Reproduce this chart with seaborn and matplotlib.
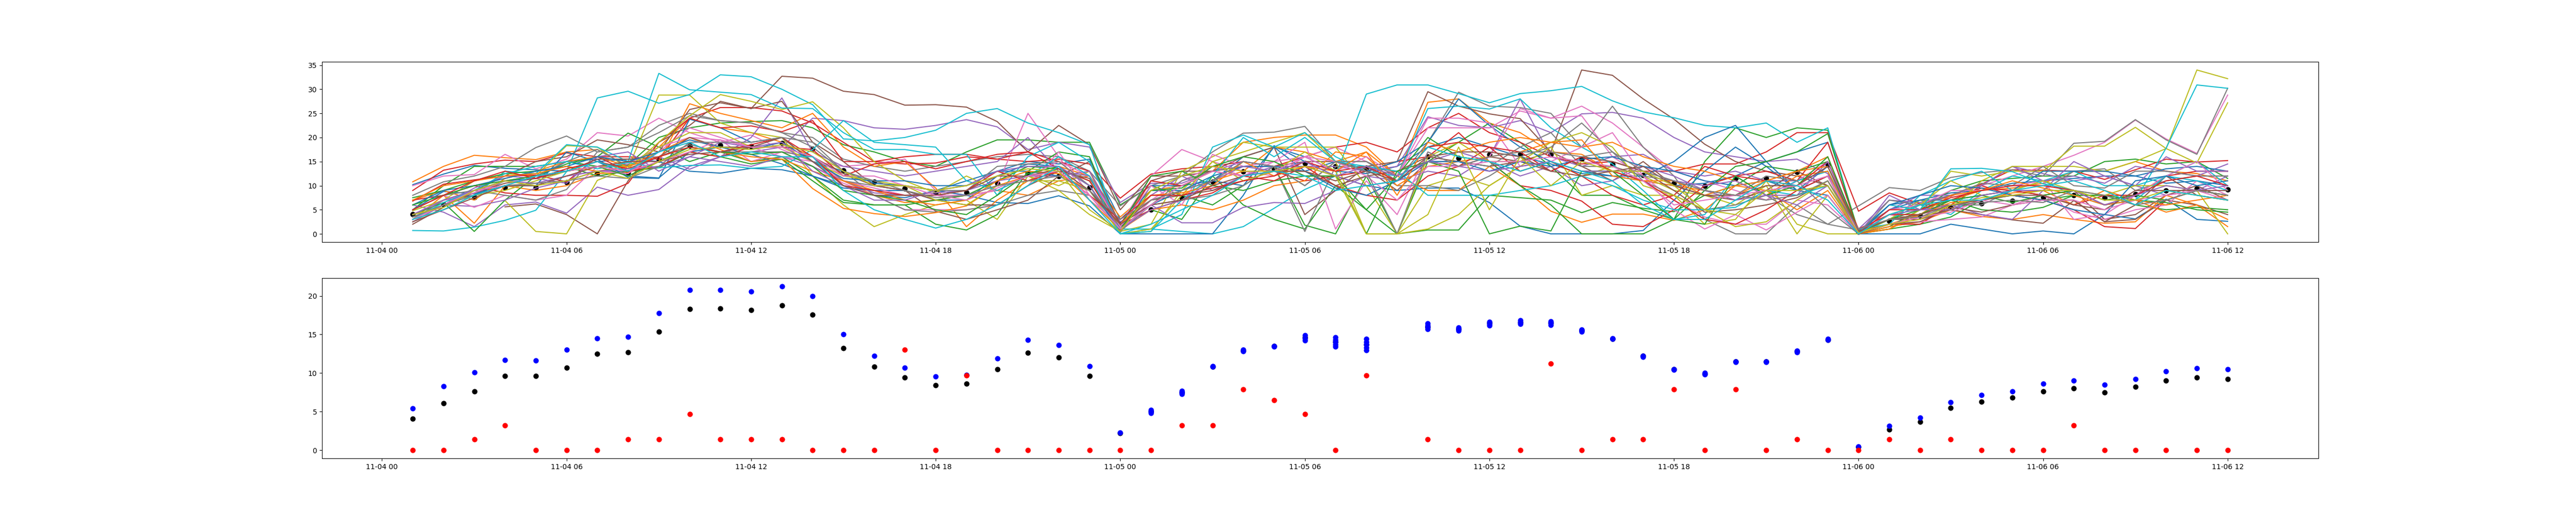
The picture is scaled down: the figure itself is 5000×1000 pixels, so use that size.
# Hourly temperature-like traces and their summary points over two and a half days
import numpy as np
import pandas as pd
import matplotlib.pyplot as plt
import seaborn as sns

nan = np.nan

hours = pd.date_range('2019-11-04 01:00', periods=60, freq='h')

# Each trace reads 12 values per row: 11-04 01h, 11-04 13h, 11-05 01h, 11-05 13h, 11-06 01h
s00 = [10.2,12.4,14.2,13.6,13.3,13,15,15.5,15,13,12.6,13.6, 13.3,12,10,8,7.5,9,11,13,15,14.5,15.5,3, 9,9,11,16,18,16,13,12.5,14,18,20,18, 16,14.5,12.5,12,11,10,10.5,12,15,17,19,0.5, 6,7,8.5,9,10.5,11,11.5,12,12,10.5,11,10]
s01 = [10.8,14,16.3,15.8,15.4,17,17.5,14,18,24,22,21, 19,16,11,8,6.5,7,8,9,8,11,12,3.5, 9,10,13,19,20,20.5,20.5,18,12,27.3,28,23, 21,17,16.5,13,11,10,9,8,11,13,16,0, 2,4,7,9,9.5,10.5,13,13,15,13,12.5,11]
s02 = [5,10,14,14,14,15,14,14.3,20,22,23,23.3, 23.5,22,18.5,17,15,14,17,19.5,19.5,19,19,6, 10,8,6,10,14,1.8,0,12,0,15,19,23, 19,14,8,8,5,3,15,22,20,22,21.5,0, 1.5,5,9,11,11.5,12,12,15,15.5,14.5,15,11.5]
s03 = [9,13.2,14.5,15.3,15,16.8,16,16,15.5,24,26.2,26.2, 25.5,23,19,15,14.5,14.7,16,15.5,15,15.5,14.5,7.4, 12.4,13.5,14,15,14,16,18,19,17,22,25,21, 19,16,14.5,15,13,13,14.5,14.5,17,21,21,4.7, 8.5,6.2,7.8,10.3,13.3,13.2,13,11.3,13.3,15.5,14.9,15.2]
s04 = [6,4.5,1.5,6,6.6,4.3,9.7,8,9.2,14,16,17, 18,24,23.5,22,21.7,22.5,23.7,22.2,17.5,19,18,6.5, 10.5,10.5,13,15,14,14,14,13,14,24.3,22.5,22, 23.5,21,24.9,25.2,24,20,17,16,15,15.5,12.5,1, 7,6.5,8,10,14,12.5,11,12,10,8,9,12]
s05 = [nan,nan,nan,5.6,6.2,4,0,11,19,22.5,27.5,26, 32.7,32.3,29.6,28.9,26.7,26.8,26.3,23.3,17,22.5,18.5,5, 12,12,13,14,14,15,15,13.5,9,15,14,16, 15,17,34,32.9,28,23.8,18.6,15,13,12,10,0, 3,3,5,7,9,8,9,3,4,8,10,7]
s06 = [10,12,12.3,16.5,13.5,15.5,21,20.3,24,21,19,20.5, 17.5,15,14,14.5,15.5,9,8,10,25,16,7,2, 12,17.5,15,13,12,16,18,15,12,22,22,22, 25.5,24,26.5,23,18,13,11,9,7,11,15,0.3, 4,3,8,10,12,14,16.3,19,23.6,19.7,16.7,28.8]
s07 = [8,10.8,12,14,17.9,20.3,17,18,22.5,25,23.5,23, 21,20,15.5,14,13,14,15,16,16.5,16,13,5.8, 10,12,17,20.9,21.1,22.3,15,15,11,19,29.4,26.5, 26.2,25,18,26.5,18,12,3,0,0,6,2,5.8, 9.6,9,11.7,12.7,13.3,12,18.8,19.2,23.7,19.5,16.5,30.2]
s08 = [nan,nan,nan,6.9,0.5,0,11.1,13.6,28.8,28.8,23,21, 20,12,6,1.5,4,6,7,3,12,10,13,0, 0.5,9,15,17,19,21,15,0,0,10,12,10, 14,15,12,14,12,9,8,6,10,0,8,0, 1,5,13,12,13,13,18.2,18.2,22.1,17.7,14.7,27.2]
s09 = [0.7,0.6,1.4,2.8,4.9,12.9,28.2,29.6,27.1,28.9,33,32.6, 30,26.8,19.7,19.3,20,21.5,25,26,23,21,18.5,0, 1,0.5,0,1.5,5.3,9.2,12,29,30.9,30.9,29.1,27.2, 29.1,29.7,30.6,27.6,25.3,24.1,22.5,22,23,19,22,0, 3,6,4,9,12,11,13,10,10,12,15,10]
s10 = [3,7,8,11,11.5,15,15.5,11.7,11.5,23.8,22,19, 20,15,13,10.5,10,9,8,6.5,6.3,7.9,5.8,0, 0,0,0,8,18.3,15,12,10,9,9.5,9.5,6.5, 1.6,0,0,0,0.7,7,13,18,14,9,8,0, 0,0,2,1,0,0.6,0,4,3.1,7.2,3,2.6]
s11 = [3,8,2.2,10,9,10,12.5,12.7,15,27,25,23.5, 22,25,18,14,15,9.5,1.5,7,11,14,12,1, 8,8,11,13,18,17,15,17,12,9,9,14, 10,4.7,2.4,4.1,4.1,2.8,5,10,9,5,9,0, 1.5,2.5,5,3.6,3,4,3,2.2,2.5,8,6,1.5]
s12 = [4,6.5,0.5,7,12,14.5,16,20.9,18,15,17,15, 16,12,7,6,6,2,0.8,4,13,17,16,1, 5,3,12,6,3,1,10,5,0,0.8,0.8,8, 7.5,7,4.4,6.5,5.3,4.6,8,10,14,13,15,0, 1,2,3.5,7,8,7,8,8,6,5,5.5,5]
s13 = [7,8,10,8.5,8,8,7.8,10.5,19,24,22,22.4, 21.2,23.5,15,15,16,16.5,16.5,15.5,17,15,13,1.8, 5,7,8.5,12,13,11,12,13,15,16,21,15, 10,9,6.8,2,1.5,5,10,12,13,11,19,0.5, 2,2,6,10,8,7,5,1.5,1.1,7,9,8]
s14 = [2.5,6,5.7,7,9.5,11,13,13,16,13.4,16,20, 28.2,17,14,13,12,13,14,15,20,13,12,2.5, 6,2.3,2.3,5.5,6.5,6.3,9,12,11,13,12,16, 28,16,14,16,16.5,13,12,13,11,11,13,0, 5,8,8,10,14,11,12,10.5,14,13,12,14.5]
s15 = [2,5.5,9,12,15,16,19.5,18.5,17,25.8,27.2,26, 27.5,19,15,10,9,4.7,3,5,7,12,15,2, 11,13,13,16,18,4,9,14,15,29.5,26.5,24.9, 23.9,17,14,11,15,10,8,7,9,13,10,0.5, 3,3.5,5,4,2.9,2.2,6.9,2.5,3,7,6,4]
s16 = [5,8,5.5,8,7,8,14,14.5,18,20,19.5,15, 17,14,10.5,8,5,5,5,6,10,17,8,0.5, 7,11,14,12,15,19,1,11,4,17,14,16, 26,24,24.5,16,12,7,3.5,2,2,7,6,0, 2,2.5,3,3.5,6,8,4.5,3,5,6,11,8]
s17 = [3,7,9,8,7,9.2,17,18,21,24.5,23.5,23, 21,18,13,8,5,4.5,5,6,8,9,8,1, 6,11,13,14,14,0.5,14,14,10,10,9,12, 16,18,23,17,11,8,5,6,8,4,2,0.8, 5,6,6,6,9,9,13,13.5,9,11,12,12]
s18 = [4.8,7,11,12.5,12,18.3,18,13.5,19,24.5,28.9,27.5, 25.8,27.4,22,15,11,8.5,12,9,12,9,4,0.5, 2,13,16,19,18,18,18,10,0,1,4,10, 14,18,8,10,8,8,2,3,11,2,0,0, 3,7,5,11,14,14,14,13,15,17.7,34,32.2]
s19 = [3.5,6,8,13,12.5,18.5,18,15,33.3,29.9,29.4,28.9, 26.1,26,21,17.5,17.5,16.5,16.5,8,16,19,15,1, 1,4,18,20.5,18,21,16,13,12,26,26.5,25.9, 28,22,18,14.5,9,3,4,12,8,11,13,1, 2,8,11,13,9,11,8,6,7,17.8,30.9,30.2]
s20 = [5,8.8,8.3,10,10,17,15,12,11.6,17,18,16.5, 14.5,12,9.5,9,9,7,7,12,14.5,14,10,0.3, 10,10,11,10,18,13,15,13,15,19,28,22.5, 18,15,13,12,12,15,20,22.5,15,9,14,0, 5,7,7,8,9,13,13,13,12,13.5,14,13]
s21 = [7,9,7,11.5,13,15,16,14,17,20,17.5,15, 15.5,9.4,5.3,4.2,3.6,4.4,5.8,10,12,13,7,0.8, 5,6,5,7,10,11,17,16,10,14,15,16, 17,19,18,19,16,14,13,11,8,12,13,0, 1,4,6.5,7,8.5,9,6,9,7,4.5,6,3]
s22 = [7.5,9,11,12.5,13,14,12,13,13.7,17,16,14.5, 15.5,11,6.5,6,6,7,8,11,14,13.5,11,1.5, 12,13,10,9,11,12,12,5,12,20,16,15, 10,6,0,0,0,3,9,14,15,17,20.8,0.5, 3,5,7,5,4.5,5.5,8,8,7,6.5,5,4.5]
s23 = [6.8,10.3,11.2,12,12.2,10.8,16,13,14,17,16,18, 18,17.5,12,14.5,15,13.5,15,16.5,17,13.5,11,0.8, 11,10,13,12,11,14,10,8,7,12,14,18, 13,15,12,8,6,8,14,12,11,10,15,1, 4,4,7,9.5,9,8,6,8,8,12,13,13]
s24 = [3,6,9.5,12,11.5,10.5,16,17,13,16,15,14, 16,14,11,8.5,8,8.5,9,11,12,12,13,1.5, 8,12,9,12,14,14,12,10,11,15,17,15, 12,14,10,11,14,12,9,7,8,8,15,0, 8,5,6,4,3,9,15,12,10,16,13,13]
s25 = [3.5,6,8.5,10.5,11.5,13,15.5,15.5,16,20,18,18, 18,16,12.5,10,9,7,6,6,10,13,11.5,2, 7,8,9,11,13,13,10,12,13,16,15,14, 15,13,16,15,13,9,4.5,5,6,7.5,11,0, 2,2.5,5.5,4.5,6,7,7,2.5,6,12,8,7]
s26 = [4,7,8.5,11,10,12,13,12.5,17,22,20,18, 16,15,11,9.5,8,8,8,9,12,15,12,1.5, 10,6,16.5,14,15,16,13,16,12,24,24,23, 14,15,18,21,12,5,1,4,0.8,4.5,8,0, 5,6,9,9,10,11,3,4,8,12,15,9]
s27 = [5,8,9,11,12,15,17.5,14,16,18.5,17,17, 17,16,11,10,10,9,9,14,14.5,15,10,0.5, 6,7,8,10,14,10,15,15,12,15,15,14, 18,21,14,14,12,11,9,8,12,11,5,0, 7,6,8,10.5,10,14,10,9.5,13,13,12,12]
s28 = [3,5,8,9,11,13,14,14,18,21,21,18, 18,15,12,11,10,7,6,10,11,11,9,0, 1,8,15,11,13,17,13,0,0,16,19,15, 15,19,21,18,10,8,5,1.5,2.5,7,11,0, 4,6,11,8,9,11,9,8,10,10,9,0]
s29 = [3,6.5,9,12.5,14,15,13.5,14.8,13.7,14.2,14.3,13.6, 14,17.5,23.5,19,18.5,18,11,9,12,16,12,0, 0.5,7,12,20,16,20,15,14,13,8,8,8, 9,10,12,10,7,5,5,5.5,9,8,10,0, 6,5,13.5,13.6,12.9,10.4,9,6,7,12,11,9]
s30 = [6,9,10,11.5,13,14,16,15,17,19.5,18,17.5, 19,15,11.5,11,11,10,10,13,13,12,9,1, 6,9,12,14,14,13,9.5,8,11,15,15,13, 15,14,15.5,16,14,13,11,10,11,9,12,0, 6,8,10,9.5,8,7,5,4,11,12,10,11]
s31 = [7,10,11,12,12.5,14,13,14,16,18,17,16, 15.5,13,11,9,7,6,7,11,13,12.5,9,2, 8,8.5,10,15,12,14,13,17,8,19,17,19, 20,19,19.5,12,11,11,8,10,11,13,14,0.5, 3,4,8,9,11,9.5,8,6,7,6,7,8]
s32 = [6,8,10,11,12,13,14,12,15,18,17,16.5, 17,14,9,8,7,5,4,8,12.5,14,10,1, 9,9.5,14,16,15,12,12,0,13,15,13,0, 1.6,0.6,13,13,8,3,2,12,8,10,16,0.3, 3,4,7,8,6.5,8,9,7,8,7,9,8]
s33 = [5,8,11,13,11.5,13.5,15,13.5,16,18,17,18.5, 20,16,10,9,8,8,9,13,11,13,8,3, 8,8,9.5,11,12,15,13,14,11,18,19,18, 17,13,16,13,11,7,3,2,5,9,12,0, 5,5,7.5,9,10,10,9,6,8,11,12,10]
s34 = [4,7,9,11,10.5,12,13,13.5,14,16,19,18, 19,13,10,7,7,9,10,13,14,14,10,1, 5,7,11,14,13,15,12,14,12,15,14,13, 14,15,13,13,13,11,10,11,8,6,10,0, 4,5,5,8,9,9,9,6,8,10,9,10]
s35 = [2.5,5,7.5,10,10,12,14,15,15,16.5,17,18, 20,15,10,8,8,8,9,12,12,13.5,9,2, 6,7,10,12,13,13,11,13,11,16,17,17, 16,13,12,13,14,10,8,8,10,10,14,0.5, 3,4,6,7,8,8,6,5,9,9,9,9]
s36 = [3,6,9,10,12,13,14,13,15,17,19.5,18, 18,16,12,12,10,8,7,9.5,12,13,8,1, 6,10,13,12,13,16,15,12,7,14,14,15, 15,16,15,14,11,6,7,8,9,10,12,0.2, 2,3.5,4.5,7,6,7,7,5,7,8,9,7]
s37 = [3.5,6,8,10,10.5,11,12,11.5,14,19,19,19, 20,19,13,11,9,7.5,8,10,11,12,9,3, 7,9,11,15,14,10,15,13,0,17,14,16, 17,17,16,17,13,11,9,8,7,8,11,1, 3,3.5,6,6.5,7,6.5,9,8,6,7,9,8]
s38 = [4,5.5,9,11,10,11,13,11.5,15,17.5,18,17.5, 18.5,17,13,10,10,9,10,12,13.5,13,5,0.5, 9,12,14,13,13,14,12,0,0,4,18,5, 16,10,15,13,13,10,5,4,9,9,10,0.2, 2,3,6,7.5,8,9,9,7,7,9,8,7]
s39 = [3,5,8,10,12,13,15,13,17,19,16,17, 16,16,9,5,3,1.2,3,6,10,14,7,0, 2,5,8,12,13,12,9,10,11,18,16,15, 13,15,13,11,6,3,3,7,11,10,7,0, 4,6,7,7,9,10,11,9,6,9,8,7]

traces = [s00, s01, s02, s03, s04, s05, s06, s07, s08, s09,
          s10, s11, s12, s13, s14, s15, s16, s17, s18, s19,
          s20, s21, s22, s23, s24, s25, s26, s27, s28, s29,
          s30, s31, s32, s33, s34, s35, s36, s37, s38, s39]

# Summary points, one per hour, no reading at 11-05 09h
mean_values = [4.1,6.1,7.6,9.6,9.6,10.7,12.5,12.7,15.4,18.3,18.4,18.2, 18.8,17.6,13.2,10.8,9.4,8.4,8.6,10.5,12.6,12,9.6,2.2, 5,7.5,10.8,12.9,13.5,14.6,14,13.7,nan,16,15.7,16.5, 16.6,16.5,15.5,14.4,12.2,10.5,9.9,11.5,11.5,12.8,14.3,0.4, 2.7,3.7,5.5,6.3,6.8,7.6,8,7.5,8.2,9,9.4,9.2]
red_values = [0,0,1.4,3.2,0,0,0,1.4,1.4,4.7,1.4,1.4, 1.4,0,0,0,13,0,9.7,0,0,0,0,0, 0,3.2,3.2,7.9,6.5,4.7,0,9.7,nan,1.4,0,0, 0,11.2,0,1.4,1.4,7.9,0,7.9,0,1.4,0,0, 1.4,0,1.4,0,0,0,3.2,0,0,0,0,0]

# Several readings per hour on the blue series during 11-05
blue_values = [[5.4],[8.3],[10.1],[11.7],[11.6],[13],[14.5],[14.7],[17.8],[20.8],[20.8],[20.6],
               [21.25],[20],[15],[12.2],[10.7],[9.55],[9.75],[11.9],[14.3],[13.6],[10.9],[2.3],
               [4.8,5.0,5.2],[7.3,7.5,7.7],[10.8,10.9],[12.8,13.0],[13.4,13.5],[14.2,14.5,14.9],
               [13.4,13.7,14,14.3,14.6],[12.95,13.3,13.7,14.0,14.4],[],[15.7,16.0,16.2,16.45],[15.5,15.7,15.9],[16.2,16.4,16.65],
               [16.4,16.6,16.85],[16.25,16.5,16.7],[15.4,15.6,15.65],[14.4,14.5],[12.1,12.2],[10.4,10.5],
               [9.8,10.0],[11.4,11.5],[11.4,11.5],[12.7,12.9],[14.3,14.4],[0.5],
               [3.15],[4.2],[6.2],[7.15],[7.6],[8.6],[9],[8.5],[9.2],[10.2],[10.6],[10.5]]

blue_df = pd.DataFrame({'time': hours, 'value': blue_values}).explode('value').dropna()
blue_df['value'] = blue_df['value'].astype(float)

fig, (ax1, ax2) = plt.subplots(2, 1, figsize=(50, 10))

# Top panel: black means sit under all the traces
sns.scatterplot(x=hours, y=mean_values, color='black', s=36, linewidth=1.5, edgecolor='face', ax=ax1)
for trace in traces:
    sns.lineplot(x=hours, y=trace, estimator=None, ax=ax1)

# Bottom panel: the same means with the other two series on top
sns.scatterplot(x=hours, y=mean_values, color='black', s=36, linewidth=1.5, edgecolor='face', ax=ax2)
sns.scatterplot(data=blue_df, x='time', y='value', color='blue', s=36, linewidth=1.5, edgecolor='face', ax=ax2)
sns.scatterplot(x=hours, y=red_values, color='red', s=36, linewidth=1.5, edgecolor='face', ax=ax2)

for ax in (ax1, ax2):
    ax.set_xlabel('')
    ax.set_ylabel('')

plt.savefig('out.png', dpi=100)
plt.close()
